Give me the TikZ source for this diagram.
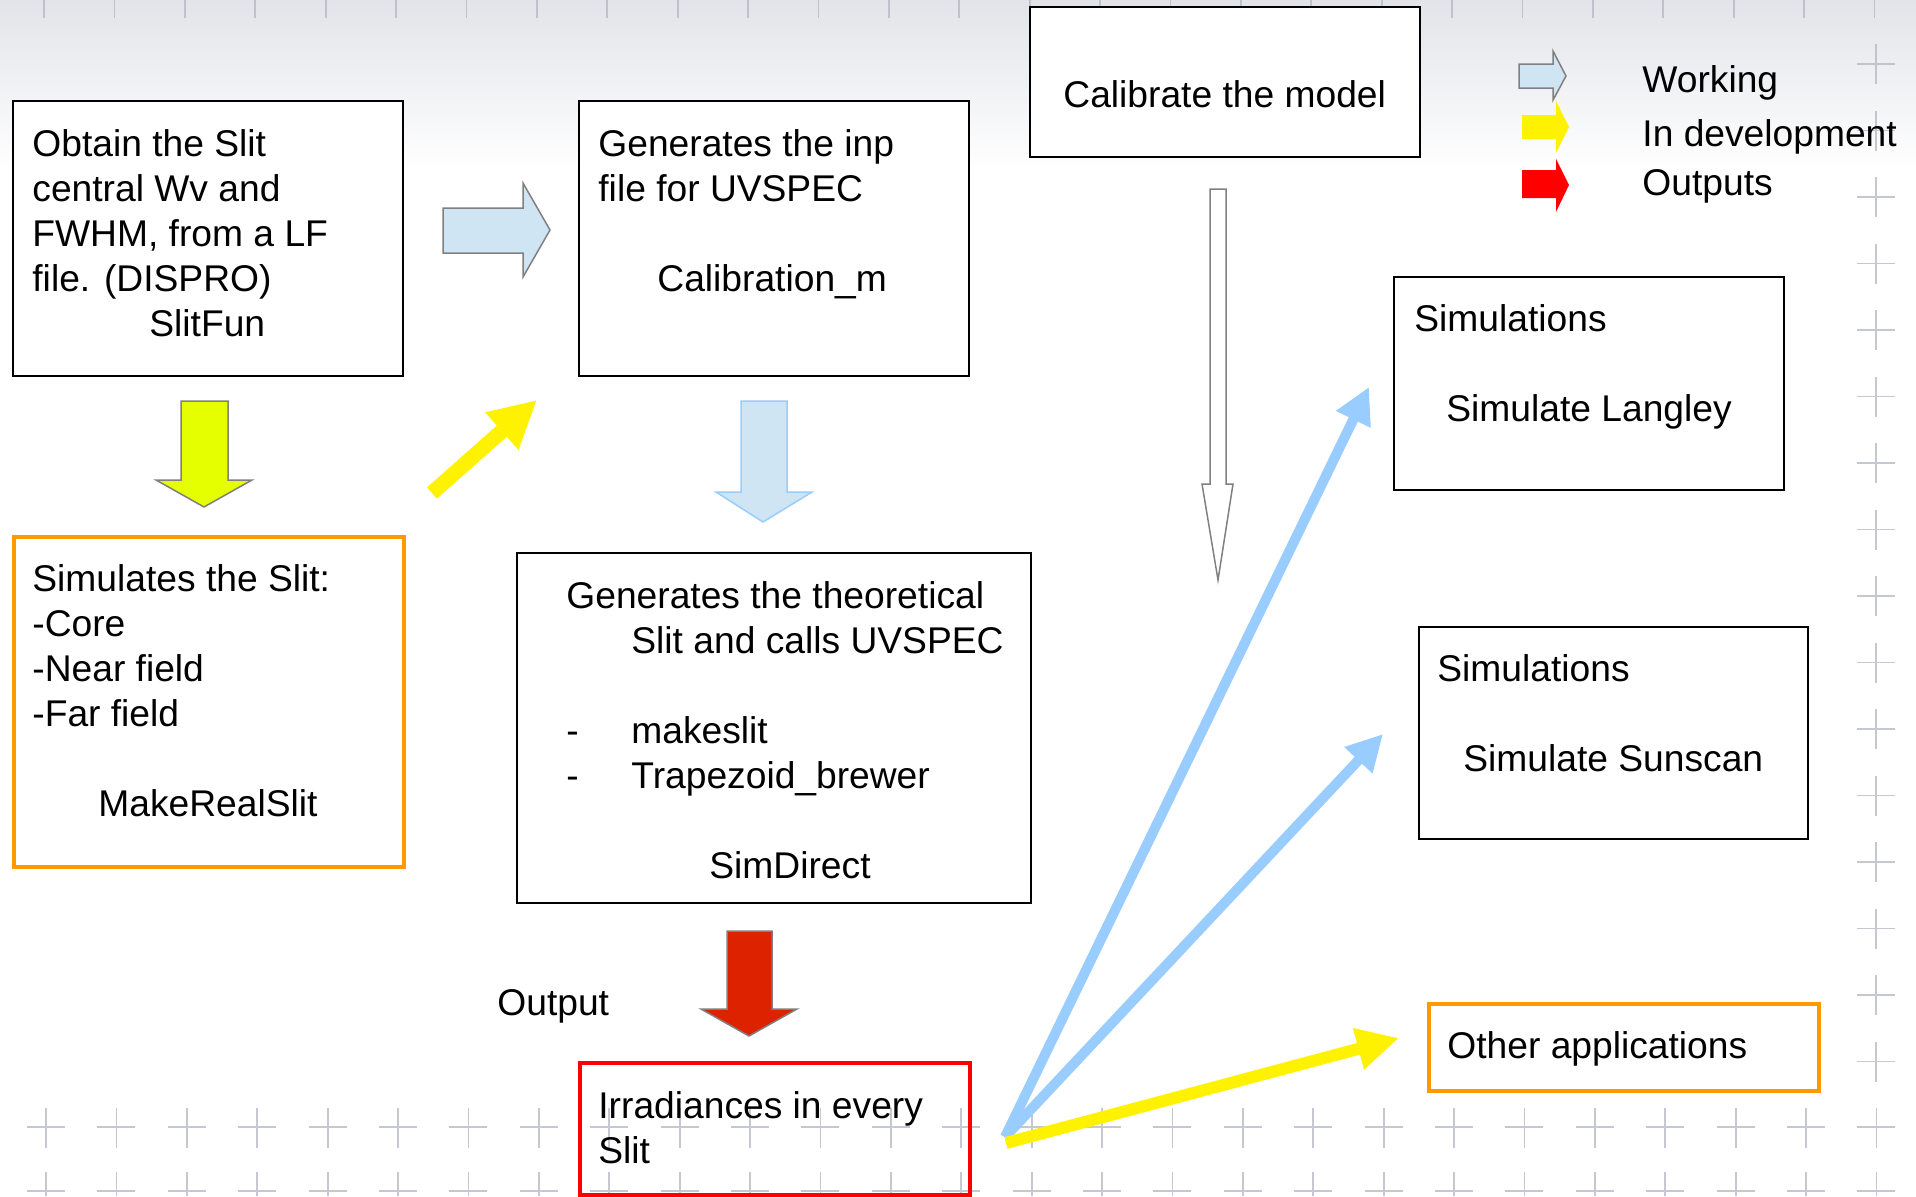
\documentclass[tikz,border=0pt]{standalone}
\usepackage{fontspec}
\setmainfont{Liberation Sans}
\usetikzlibrary{arrows.meta,calc}
\definecolor{lblue}{HTML}{CFE5F3}
\definecolor{lblueline}{HTML}{99CCFF}
\definecolor{ygreen}{HTML}{E5FF00}
\definecolor{arrred}{HTML}{DD2200}
\definecolor{orng}{HTML}{FF9900}
\definecolor{crossc}{HTML}{B4B6C2}
\definecolor{cloud}{HTML}{E2E4E9}
\newcommand\fl{\rule{0pt}{14pt}}
\begin{document}
\begin{tikzpicture}[x=0.5pt,y=-0.5pt,
  box/.style={draw=black, line width=1pt, fill=white, inner sep=0pt, anchor=north west},
  obox/.style={box, draw=orng, line width=2pt},
  rbox/.style={draw=red, line width=2pt, inner sep=0pt, anchor=north west},
  txt/.style={inner sep=0pt, anchor=north west, align=left, font=\fontsize{18.6}{22.5}\selectfont},
  ltxt/.style={inner sep=0pt, anchor=base west, font=\fontsize{18.6}{22.5}\selectfont},
  blockgray/.style={draw=gray, line width=0.75pt, line join=miter},
  crossmark/.style={draw=crossc, line width=0.9pt, opacity=0.75},
  bluelink/.style={draw=lblueline, line width=5pt, -{Triangle[length=18pt,width=18pt]}},
  yellowlink/.style={draw=yellow, line width=6pt, -{Triangle[length=21pt,width=20pt]}},
  yellowbig/.style={draw=yellow, line width=7.5pt, -{Triangle[length=23.5pt,width=23.5pt]}}
]
\useasboundingbox (0,0) rectangle (1916,1196);
% background
\fill[white] (0,0) rectangle (1916,1196);
\shade[top color=cloud, bottom color=white] (0,0) rectangle (1916,170);
\foreach \i in {0,...,26} {
  \draw[crossmark] ({44+70.4*\i},0) -- ++(0,18);
  \draw[crossmark] ({46+70.4*\i},1108) -- ++(0,40) ({46+70.4*\i-19},1127) -- ++(38,0);
  \draw[crossmark] ({46+70.4*\i},1172) -- ++(0,24) ({46+70.4*\i-19},1191) -- ++(38,0);
}
\foreach \j in {0,...,15} {
  \draw[crossmark] (1876,{64+66.5*\j-20}) -- ++(0,40) (1857,{64+66.5*\j}) -- ++(38,0);
}

% boxes
\node[box, minimum width=195pt, minimum height=137.5pt] (b1) at (12,100) {};
\node[box, minimum width=195pt, minimum height=137.5pt] (b2) at (578,100) {};
\node[box, minimum width=195pt, minimum height=75pt] (b3) at (1029,6) {};
\node[box, minimum width=195pt, minimum height=106.5pt] (b4) at (1393,276) {};
\node[box, minimum width=194.5pt, minimum height=106pt] (b5) at (1418,626) {};
\node[obox, minimum width=195pt, minimum height=43.5pt] (b6) at (1427,1002) {};
\node[obox, minimum width=195pt, minimum height=165pt] (b7) at (12,535) {};
\node[box, minimum width=257pt, minimum height=175pt] (b8) at (516,552) {};
\node[rbox, minimum width=195pt, minimum height=66pt] (b9) at (578,1061) {};

% texts
\node[txt] (t1) at (32,128) {\fl Obtain the Slit\\ central Wv and\\ FWHM, from a LF\\ file. (DISPRO)\\ \hspace*{58.5pt}SlitFun};
\node[txt] (t2) at (598,128) {\fl Generates the inp\\ file for UVSPEC\\[22.5pt] \hspace*{29.5pt}Calibration\_m};
\node[ltxt] (t3) at (1063,107) {Calibrate the model};
\node[txt] (t4) at (1414,303) {\fl Simulations\\[22.5pt] \hspace*{16pt}Simulate Langley};
\node[txt] (t5) at (1437,653) {\fl Simulations\\[22.5pt] \hspace*{13pt}Simulate Sunscan};
\node[ltxt] (t6) at (1447,1058) {Other applications};
\node[txt] (t7) at (32,563) {\fl Simulates the Slit:\\ -Core\\ -Near field\\ -Far field\\[22.5pt] \hspace*{33pt}MakeRealSlit};
\node[txt] (t8) at (566,580) {\fl Generates the theoretical\\ \hspace*{32.5pt}Slit and calls UVSPEC\\[22.5pt] \makebox[32.5pt][l]{-}makeslit\\ \makebox[32.5pt][l]{-}Trapezoid\_brewer\\[22.5pt] \hspace*{71.5pt}SimDirect};
\node[ltxt] (t9) at (497,1015) {Output};
\node[txt] (t10) at (598,1090) {\fl Irradiances in every\\ Slit};

% legend
\node[ltxt] (lg1) at (1642,92) {Working};
\node[ltxt] (lg2) at (1642,146) {In development};
\node[ltxt] (lg3) at (1642,195) {Outputs};
\fill[lblue] (1519,64) -- (1553,64) -- (1553,51) -- (1566,76) -- (1553,100) -- (1553,88) -- (1519,88) -- cycle;
\draw[blockgray] (1519,64) -- (1553,64) -- (1553,51) -- (1566,76) -- (1553,100) -- (1553,88) -- (1519,88) -- cycle;
\fill[yellow] (1522,115) -- (1556,115) -- (1556,101) -- (1569,127) -- (1556,153) -- (1556,139) -- (1522,139) -- cycle;
\fill[red] (1522,170) -- (1556,170) -- (1556,159) -- (1569,185) -- (1556,212) -- (1556,198) -- (1522,198) -- cycle;

% block arrows
\draw[blockgray, fill=lblue] (443,208) -- (523,208) -- (523,183) -- (550,230) -- (523,277) -- (523,253) -- (443,253) -- cycle;
\draw[blockgray, fill=ygreen] (181,401) -- (228,401) -- (228,480) -- (252,480) -- (204,507) -- (156,480) -- (181,480) -- cycle;
\draw[draw=lblueline, line width=0.75pt, fill=lblue] (741,401) -- (787,401) -- (787,492) -- (812,492) -- (763,522) -- (716,492) -- (741,492) -- cycle;
\draw[blockgray, fill=arrred] (727,931) -- (772,931) -- (772,1009) -- (797,1009) -- (749,1036) -- (701,1009) -- (727,1009) -- cycle;
\draw[blockgray, fill=white] (1210,189) -- (1226,189) -- (1226,484) -- (1233,484) -- (1218,580) -- (1202,484) -- (1210,484) -- cycle;

% link arrows
\coordinate (ys) at (432,493);
\coordinate (ye) at (537,400);
\draw[yellowbig] (ys) -- (ye);
\coordinate (s1) at (1005,1137);
\coordinate (e1) at (1369,387);
\coordinate (e2) at (1383,734);
\coordinate (s3) at (1006,1143);
\coordinate (e3) at (1399,1038);
\draw[bluelink] (s1) -- (e1);
\draw[bluelink] (s1) -- (e2);
\draw[yellowlink] (s3) -- (e3);
\end{tikzpicture}
\end{document}
